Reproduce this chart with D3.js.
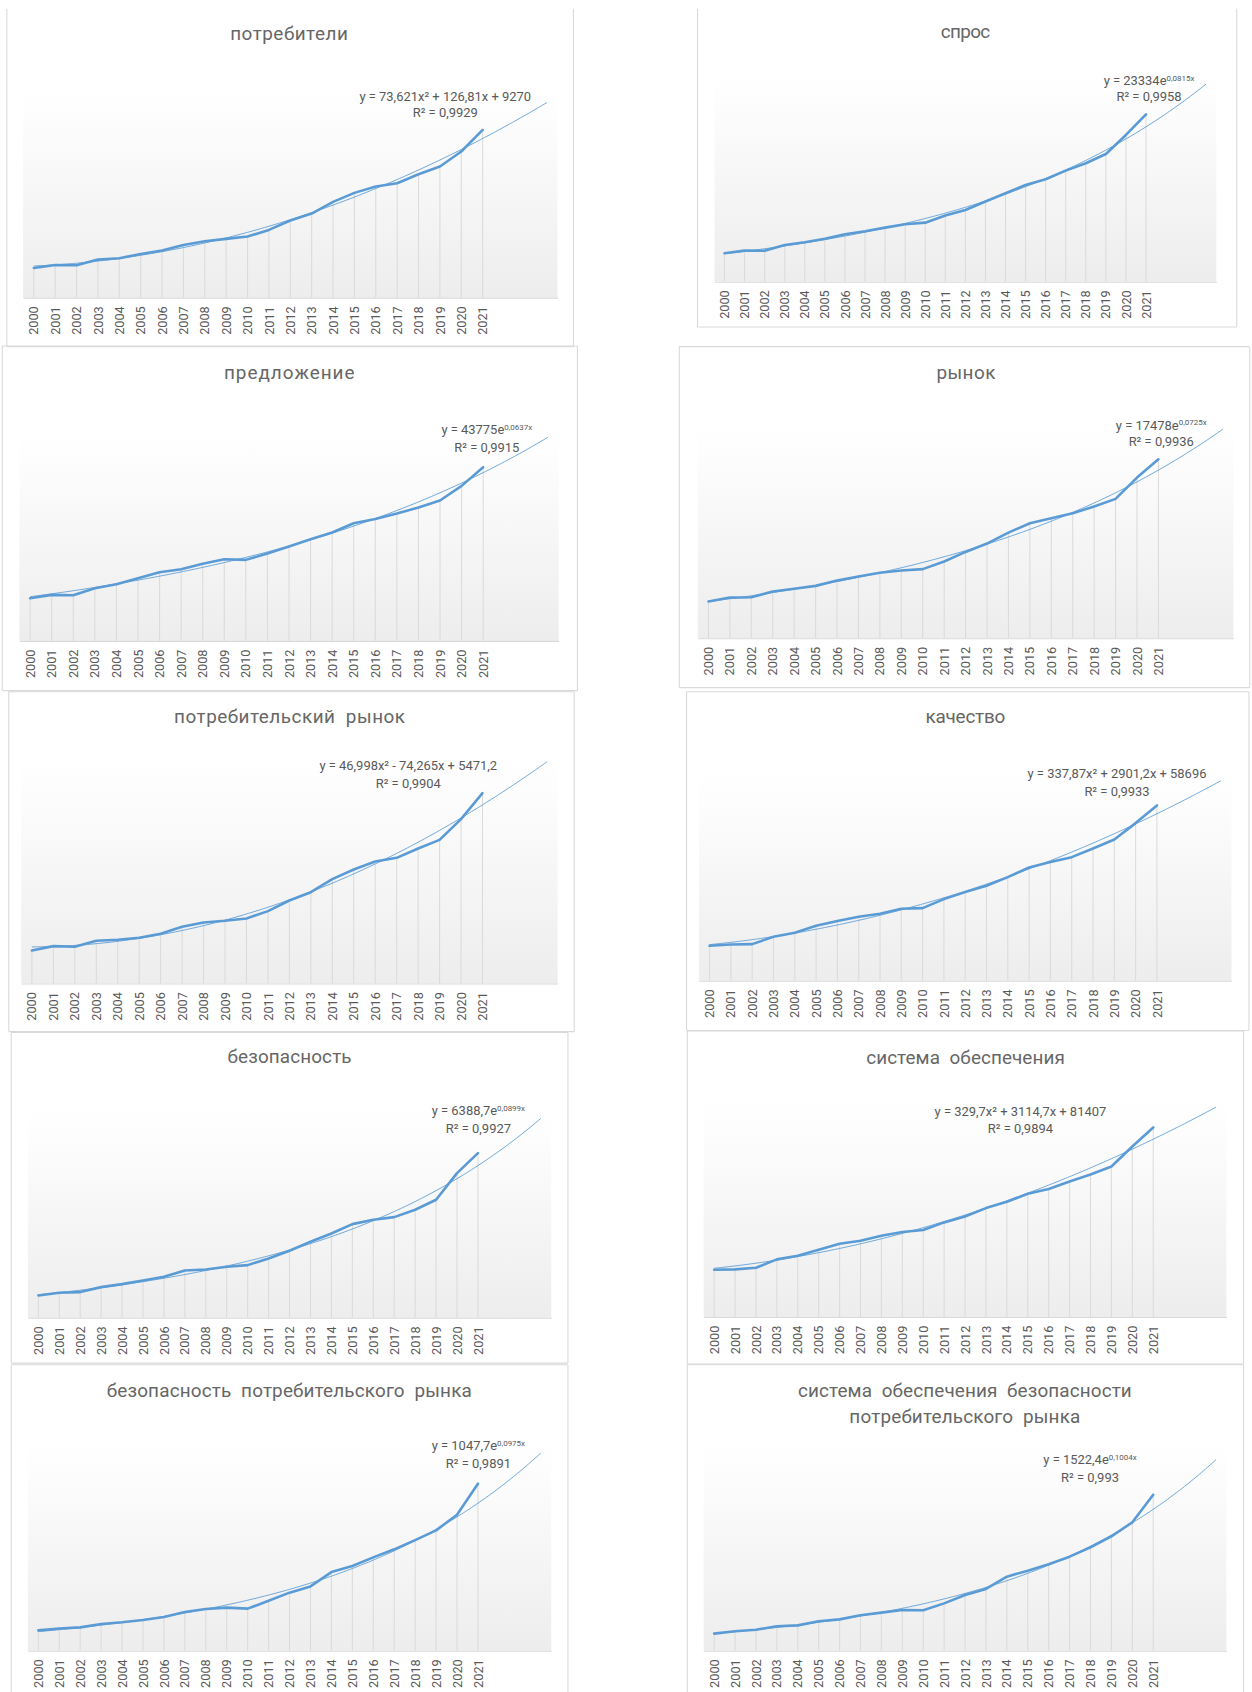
<!DOCTYPE html>
<html><head><meta charset="utf-8">
<script src="https://cdn.jsdelivr.net/npm/d3@7"></script>
<style>html,body{margin:0;padding:0;background:#fff;} svg{display:block;}</style>
</head><body>
<svg id="c" width="1252" height="1692" viewBox="0 0 1160 1568"></svg>
<script>
// ---------- DATA ----------
const years = ["2000","2001","2002","2003","2004","2005","2006","2007","2008","2009","2010",
               "2011","2012","2013","2014","2015","2016","2017","2018","2019","2020","2021"];

const potrebiteli      = [8900, 9800, 9700, 11400, 11800, 13100, 14100, 15800, 16900, 17600, 18300, 20300, 23100, 25200, 28700, 31400, 33300, 34300, 37000, 39300, 43800, 50300];
const spros            = [25700, 28100, 28000, 33200, 35600, 38900, 42900, 45600, 48900, 51900, 53400, 59800, 64900, 72500, 80000, 87500, 92700, 100500, 107200, 115600, 132800, 151500];
const predlozhenie     = [45100, 48600, 48200, 55600, 59900, 66200, 72600, 75700, 81400, 86300, 85600, 92300, 99700, 107400, 114500, 124300, 128900, 134500, 140900, 148300, 163800, 183500];
const rynok            = [18800, 20800, 21000, 23900, 25300, 26800, 29500, 31600, 33500, 34700, 35400, 39300, 44200, 48500, 54100, 58900, 61500, 64000, 67500, 71400, 82300, 91700];
const potrebRynok      = [4910, 5560, 5460, 6350, 6500, 6800, 7390, 8430, 9080, 9330, 9670, 10770, 12350, 13590, 15530, 16970, 18160, 18700, 20090, 21380, 24460, 28330];
const kachestvo        = [59900, 62200, 62800, 75300, 82200, 94200, 102200, 109600, 114700, 123300, 124400, 139800, 151800, 162600, 177500, 194000, 203200, 211700, 226600, 242000, 270000, 300200];
const bezopasnost      = [6770, 7580, 7790, 9300, 10210, 11320, 12440, 14360, 14660, 15470, 15970, 17990, 20320, 23050, 25580, 28410, 29720, 30530, 32760, 35790, 43880, 49940];
const sistemaObesp     = [82350, 82920, 85820, 100300, 106700, 117100, 127600, 132800, 141500, 147900, 151400, 164700, 175100, 189600, 200600, 214600, 222700, 236000, 248200, 262100, 296900, 330000];
const bezopPotrRynka   = [1230, 1350, 1415, 1620, 1720, 1860, 2040, 2350, 2530, 2610, 2550, 3030, 3520, 3900, 4770, 5140, 5660, 6150, 6710, 7300, 8250, 10130];
const sistObespBezop   = [1670, 1900, 2060, 2390, 2480, 2880, 3070, 3470, 3730, 3990, 3960, 4640, 5460, 6050, 7260, 7850, 8470, 9220, 10130, 11210, 12590, 15300];

const seriesList = [potrebiteli, spros, predlozhenie, rynok, potrebRynok, kachestvo, bezopasnost, sistemaObesp, bezopPotrRynka, sistObespBezop];

const titleLines = [
  ["потребители"], ["спрос"], ["предложение"], ["рынок"],
  ["потребительский  рынок"], ["качество"], ["безопасность"], ["система  обеспечения"],
  ["безопасность  потребительского  рынка"],
  ["система  обеспечения  безопасности", "потребительского  рынка"]
];

// trendlines (x = 1..n, forecast forward 3 periods)
const trendKinds = ["poly","exp","exp","exp","poly","poly","exp","poly","exp","exp"];
const trendCoefs = [
  [73.621, 126.81, 9270], [23334, 0.0815], [43775, 0.0637], [17478, 0.0725],
  [46.998, -74.265, 5471.2], [337.87, 2901.2, 58696], [6388.7, 0.0899],
  [329.7, 3114.7, 81407], [1047.7, 0.0975], [1522.4, 0.1004]
];
const eqMain = ["y = 73,621x² + 126,81x + 9270", "y = 23334e", "y = 43775e", "y = 17478e",
  "y = 46,998x² - 74,265x + 5471,2", "y = 337,87x² + 2901,2x + 58696", "y = 6388,7e",
  "y = 329,7x² + 3114,7x + 81407", "y = 1047,7e", "y = 1522,4e"];
const eqExp = [null, "0,0815x", "0,0637x", "0,0725x", null, null, "0,0899x", null, "0,0975x", "0,1004x"];
const r2Labels = ["R² = 0,9929", "R² = 0,9958", "R² = 0,9915", "R² = 0,9936", "R² = 0,9904",
  "R² = 0,9933", "R² = 0,9927", "R² = 0,9894", "R² = 0,9891", "R² = 0,993"];
const forecastForward = 3;

// ---------- LAYOUT (coordinates in 1160x1568 space) ----------
// frame: [left, top, right, bottom], plot: [x0, x1, axisY, height], yTop: value at plot top
const layout = [
  {frame:[6.2,8,531.3,321.2], topLine:false, bottomLine:true,  plot:[21.3,516.5,275.8,195], yTop:63080,  title:[267.7,[30.9],[109]],   eq:[412.5,89.0,104.4]},
  {frame:[646.3,8,1146,303], topLine:false, bottomLine:true, plot:[662,1127,261.0,195],   yTop:190520, title:[894.6,[29.3],[45.6]],  eq:[1064.7,74.7,89.6]},
  {frame:[2,320.6,535,640],    topLine:true,  bottomLine:true, plot:[17.8,517.6,593.9,195], yTop:222380, title:[267.9,[345.3],[121]],  eq:[451,397.8,414.5]},
  {frame:[629.4,321.2,1158,637.2], topLine:true, bottomLine:true, plot:[646.5,1142.9,591.4,200], yTop:110610, title:[895,[345],[54.7]], eq:[1076,393.8,409.2]},
  {frame:[8,641,532,956],      topLine:true,  bottomLine:true, plot:[19.5,516.6,911.4,211], yTop:33890,  title:[268.2,[664],[214]],    eq:[378.2,709.7,725.8]},
  {frame:[636.1,641,1157.3,955], topLine:true, bottomLine:true, plot:[647.6,1141.1,908.9,195], yTop:360320, title:[894.5,[664],[74]], eq:[1035,717.1,732.9]},
  {frame:[10.3,956.8,526.2,1263.2], topLine:true, bottomLine:true, plot:[25.7,510.7,1221.2,195], yTop:63830, title:[268.2,[979],[115]], eq:[443.2,1029.4,1045.4]},
  {frame:[636.8,955.3,1152.3,1264.1], topLine:true, bottomLine:true, plot:[652,1136.4,1220.5,201], yTop:377550, title:[894.6,[979.6],[184]], eq:[945.5,1030,1046.1]},
  {frame:[10.3,1264.7,526.2,1600], topLine:true, bottomLine:false, plot:[25.7,510.7,1529.7,195], yTop:12769, title:[267.9,[1287.9],[338.4]], eq:[443.2,1339.8,1355.8]},
  {frame:[636.8,1264.7,1152.3,1600], topLine:true, bottomLine:false, plot:[652,1136.4,1529.7,195], yTop:20638, title:[894,[1287.9,1312],[309.4,214]], eq:[1010,1352.7,1368.8]}
];

// ---------- STYLE ----------
const FONT = "Roboto, 'Noto Sans', sans-serif";
const TXT = "#595959";
const TITLE = "#666666";
const BLUE = "#5b9bd5";
const GRID = "#d9d9d9";

const svg = d3.select("#c");
const defs = svg.append("defs");
const grad = defs.append("linearGradient").attr("id","plotGrad")
  .attr("x1",0).attr("y1",0).attr("x2",0).attr("y2",1);
grad.append("stop").attr("offset","0%").attr("stop-color","#ffffff");
grad.append("stop").attr("offset","15%").attr("stop-color","#fdfdfd");
grad.append("stop").attr("offset","100%").attr("stop-color","#ededed");

function trendValue(kind, c, x) {
  return kind === "poly" ? c[0]*x*x + c[1]*x + c[2] : c[0]*Math.exp(c[1]*x);
}

seriesList.forEach((values, p) => {
  const L = layout[p];
  const g = svg.append("g");
  const n = values.length;
  const nCats = n + forecastForward;

  // frame
  const [fl, ft, fr, fb] = L.frame;
  const fr_g = g.append("g").attr("stroke", GRID).attr("stroke-width", 1).attr("fill","none");
  fr_g.append("line").attr("x1",fl).attr("y1",ft).attr("x2",fl).attr("y2",fb);
  fr_g.append("line").attr("x1",fr).attr("y1",ft).attr("x2",fr).attr("y2",fb);
  if (L.topLine) fr_g.append("line").attr("x1",fl).attr("y1",ft).attr("x2",fr).attr("y2",ft);
  if (L.bottomLine) fr_g.append("line").attr("x1",fl).attr("y1",fb).attr("x2",fr).attr("y2",fb);

  const [x0, x1, axisY, ph] = L.plot;
  const xBand = d3.scaleBand().domain(d3.range(nCats)).range([x0, x1]).padding(0);
  const cx = i => xBand(i) + xBand.bandwidth()/2;
  const y = d3.scaleLinear().domain([0, L.yTop]).range([axisY, axisY - ph]);
  const xTrend = d3.scaleLinear().domain([1, nCats]).range([cx(0), cx(nCats-1)]);

  // plot area
  g.append("rect").attr("x", x0).attr("y", axisY - ph).attr("width", x1 - x0).attr("height", ph)
    .attr("fill", "url(#plotGrad)");

  // drop lines
  g.append("g").selectAll("line").data(values).join("line")
    .attr("x1", (d,i) => cx(i)).attr("x2", (d,i) => cx(i))
    .attr("y1", d => y(d)).attr("y2", axisY)
    .attr("stroke", GRID).attr("stroke-width", 0.9);

  // category axis
  const ax = g.append("g").attr("transform", `translate(0,${axisY})`)
    .call(d3.axisBottom(xBand).tickSize(0).tickSizeOuter(0).tickFormat(i => years[i] || ""));
  ax.select(".domain").attr("stroke", GRID).attr("stroke-width", 1);
  ax.selectAll("text")
    .attr("transform", "rotate(-90)")
    .attr("x", -8).attr("y", 0).attr("dy", "0.36em")
    .style("text-anchor", "end")
    .attr("fill", TXT).attr("font-family", FONT).attr("font-size", 11.8);

  // data line
  const line = d3.line().x((d,i) => cx(i)).y(d => y(d));
  g.append("path").datum(values).attr("d", line)
    .attr("fill","none").attr("stroke", BLUE).attr("stroke-width", 2.4)
    .attr("stroke-linejoin","round").attr("stroke-linecap","round");

  // trendline
  const ts = d3.range(1, nCats + 0.0001, 0.1);
  const tline = d3.line().x(t => xTrend(t)).y(t => y(trendValue(trendKinds[p], trendCoefs[p], t)));
  g.append("path").datum(ts).attr("d", tline)
    .attr("fill","none").attr("stroke", BLUE).attr("stroke-width", 0.9).attr("opacity", 0.9);

  // trend equation label
  const [ecx, ey1, ey2] = L.eq;
  const t1 = g.append("text").attr("x", ecx).attr("y", ey1).attr("dy","0.36em")
    .attr("text-anchor","middle").attr("fill", TXT).attr("font-family", FONT).attr("font-size", 12)
    .style("white-space","pre");
  t1.append("tspan").text(eqMain[p]);
  if (eqExp[p]) t1.append("tspan").attr("font-size", 7.4).attr("dy", "-0.55em").text(eqExp[p]);
  g.append("text").attr("x", ecx).attr("y", ey2).attr("dy","0.36em")
    .attr("text-anchor","middle").attr("fill", TXT).attr("font-family", FONT).attr("font-size", 12)
    .text(r2Labels[p]);

  // title
  const [tcx, tys, tws] = L.title;
  titleLines[p].forEach((s, k) => {
    g.append("text").attr("x", tcx).attr("y", tys[k]).attr("dy","0.36em")
      .attr("text-anchor","middle").attr("fill", TITLE).attr("font-family", FONT).attr("font-size", 17.5)
      .style("white-space","pre")
      .attr("textLength", tws[k]).attr("lengthAdjust","spacing")
      .text(s);
  });
});
</script>
</body></html>
